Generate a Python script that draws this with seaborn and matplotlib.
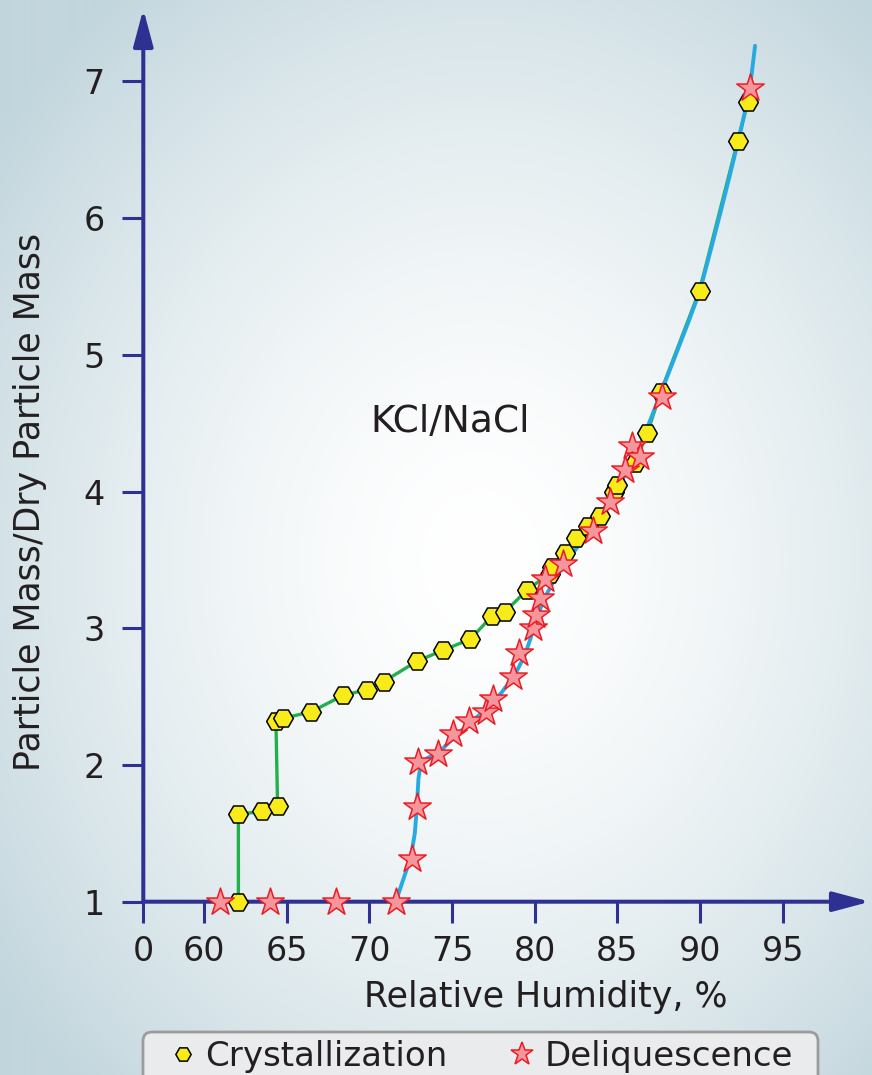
import numpy as np
import pandas as pd
import matplotlib
matplotlib.use("Agg")
import matplotlib.pyplot as plt
import matplotlib.patches as mpatches
import matplotlib.transforms as mtransforms
import seaborn as sns
from matplotlib.lines import Line2D

# ---------------- data ----------------
cryst_rh = [62.08, 62.08, 63.5, 64.45, 64.35, 64.76, 66.5, 68.43, 69.84, 70.87,
            72.9, 74.48, 76.1, 77.43, 78.2, 79.54, 80.9, 81.07, 81.84, 82.52,
            83.2, 83.93, 84.78, 84.97, 86.07, 86.82, 87.63, 89.97, 92.27, 92.89]
cryst_mass = [1.0, 1.64, 1.66, 1.70, 2.32, 2.34, 2.39, 2.51, 2.55, 2.61,
              2.76, 2.84, 2.92, 3.09, 3.12, 3.28, 3.40, 3.45, 3.55, 3.66,
              3.75, 3.82, 4.00, 4.05, 4.21, 4.43, 4.73, 5.47, 6.56, 6.85]

deliq_rh = [60.97, 64.0, 68.0, 71.6, 72.56, 72.86, 72.96, 74.17, 75.08, 76.05,
            77.06, 77.5, 78.71, 79.07, 79.92, 80.08, 80.33, 80.63, 81.74, 83.55,
            84.56, 85.47, 85.87, 86.38, 87.69, 93.03]
deliq_mass = [1.0, 1.0, 1.0, 1.0, 1.31, 1.69, 2.02, 2.08, 2.23, 2.32,
              2.39, 2.48, 2.64, 2.82, 3.00, 3.10, 3.22, 3.36, 3.47, 3.71,
              3.92, 4.16, 4.33, 4.25, 4.69, 6.95]

# smooth deliquescence curve
fit_rh = [71.6, 72.1, 72.5, 72.75, 72.88, 72.97, 73.1, 73.5, 74.2, 75.1,
          76.0, 77.0, 78.0, 78.8, 79.4, 79.9, 80.5, 81.5, 82.5, 83.5,
          84.5, 85.5, 86.5, 87.5, 88.5, 89.3, 90.0, 90.7, 91.3, 91.9,
          92.5, 93.0, 93.33]
fit_mass = [1.0, 1.18, 1.32, 1.50, 1.70, 1.90, 2.00, 2.05, 2.09, 2.20,
            2.30, 2.40, 2.53, 2.66, 2.80, 2.98, 3.20, 3.42, 3.58, 3.73,
            3.91, 4.13, 4.37, 4.68, 4.99, 5.24, 5.47, 5.79, 6.07, 6.36,
            6.66, 6.93, 7.26]

x_tick_values = [60, 65, 70, 75, 80, 85, 90, 95]
x_tick_labels = ["0", "60", "65", "70", "75", "80", "85", "90", "95"]
y_tick_values = [1, 2, 3, 4, 5, 6, 7]

series_labels = ["Crystallization", "Deliquescence"]
annotation_text = "KCl/NaCl"
x_label = "Relative Humidity, %"
y_label = "Particle Mass/Dry Particle Mass"

# ---------------- styling ----------------
AXIS_BLUE = "#2E3192"
TEXT = "#231F20"
GREEN = "#22B04B"
CYAN = "#27AAE1"
HEX_FILL = "#F7EC1A"
STAR_FILL = "#F5959C"
STAR_EDGE = "#EC1C24"

sns.set_style("white")
plt.rcParams["font.family"] = ["DejaVu Sans"]

W_PX, H_PX = 872, 1075
fig = plt.figure(figsize=(W_PX / 100, H_PX / 100), dpi=100)

# radial background
bg = fig.add_axes([0, 0, 1, 1])
bg.set_axis_off()
yy, xx = np.mgrid[0:H_PX, 0:W_PX]
r = np.sqrt(((xx - 480) / 600.0) ** 2 + ((yy - 560) / 720.0) ** 2)
t = np.clip(r, 0, 1) ** 1.6
c0 = np.array([1.0, 1.0, 1.0])
c1 = np.array([0xC2, 0xD6, 0xDD]) / 255.0
img = c0 + (c1 - c0) * t[..., None]
bg.imshow(img, extent=[0, 1, 0, 1], aspect="auto", origin="upper")
bg.set_xlim(0, 1)
bg.set_ylim(0, 1)

# main axes geometry (pixels)
ax_left_px, ax_right_px = 143.3, 855.0
ax_bottom_px, ax_top_px = 901.7, 25.0
ax = fig.add_axes([ax_left_px / W_PX, 1 - ax_bottom_px / H_PX,
                   (ax_right_px - ax_left_px) / W_PX,
                   (ax_bottom_px - ax_top_px) / H_PX])
ax.patch.set_alpha(0)

px_per_unit_x = 82.67 / 5.0
px_per_unit_y = 136.73
x_min = 60 - (204.0 - ax_left_px) / px_per_unit_x
x_max = 60 + (ax_right_px - 204.0) / px_per_unit_x
y_min = 1.0
y_max = 1 + (ax_bottom_px - ax_top_px) / px_per_unit_y
ax.set_xlim(x_min, x_max)
ax.set_ylim(y_min, y_max)

df_c = pd.DataFrame({"rh": cryst_rh, "mass": cryst_mass})
df_d = pd.DataFrame({"rh": deliq_rh, "mass": deliq_mass})
df_f = pd.DataFrame({"rh": fit_rh, "mass": fit_mass})

sns.lineplot(data=df_c, x="rh", y="mass", sort=False, estimator=None,
             color=GREEN, lw=2.4, ax=ax, zorder=2)
sns.lineplot(data=df_f, x="rh", y="mass", sort=False, estimator=None,
             color=CYAN, lw=2.8, ax=ax, zorder=2.2)
sns.scatterplot(data=df_c, x="rh", y="mass", marker="H", s=200,
                color=HEX_FILL, edgecolor="black", linewidth=1.1,
                ax=ax, zorder=3, clip_on=False)
sns.scatterplot(data=df_d, x="rh", y="mass", marker="*", s=430,
                color=STAR_FILL, edgecolor=STAR_EDGE, linewidth=1.1,
                ax=ax, zorder=4, clip_on=False)
if ax.get_legend() is not None:
    ax.get_legend().remove()

# axes with arrows
for s in ax.spines.values():
    s.set_visible(False)
arrow_kw = dict(arrowstyle="-|>,head_length=1.5,head_width=0.4",
                color=AXIS_BLUE, lw=2.9, shrinkA=0, shrinkB=0,
                mutation_scale=15)
x_tip = (870 - ax_left_px) / (ax_right_px - ax_left_px)
y_tip = (ax_bottom_px - 9) / (ax_bottom_px - ax_top_px)
ax.annotate("", xy=(x_tip, 0), xytext=(0, 0), xycoords="axes fraction",
            textcoords="axes fraction", arrowprops=arrow_kw,
            annotation_clip=False, zorder=1.5)
ax.annotate("", xy=(0, y_tip), xytext=(0, 0), xycoords="axes fraction",
            textcoords="axes fraction", arrowprops=arrow_kw,
            annotation_clip=False, zorder=1.5)

ax.set_xticks([x_min] + x_tick_values)
ax.set_xticklabels(x_tick_labels)
ax.set_yticks(y_tick_values)
ax.set_yticklabels([str(v) for v in y_tick_values])
ax.tick_params(axis="both", which="major", direction="out", length=15,
               width=2.2, color=AXIS_BLUE, labelsize=24, labelcolor=TEXT,
               bottom=True, left=True, top=False, right=False)
ax.tick_params(axis="x", pad=9)
ax.tick_params(axis="y", pad=13)

ax.set_xlabel(x_label, fontsize=25, color=TEXT)
ax.set_ylabel(y_label, fontsize=25, color=TEXT)
ax.xaxis.label.set_va("center")
ax.yaxis.label.set_va("center")
ax.yaxis.label.set_ha("center")
aw = ax_right_px - ax_left_px
ah = ax_bottom_px - ax_top_px
ax.xaxis.set_label_coords((546 - ax_left_px) / aw, -(997 - ax_bottom_px) / ah)
ax.yaxis.set_label_coords((30 - ax_left_px) / aw, (ax_bottom_px - 502) / ah)

ax.text(74.88, 4.51, annotation_text, fontsize=27, ha="center", va="center",
        color=TEXT)

# legend box (drawn in pixel coordinates, runs past the bottom edge)
legend_box = mpatches.FancyBboxPatch(
    (143, H_PX - 1100), 818 - 143, 1100 - 1032,
    boxstyle="round,pad=0,rounding_size=9",
    transform=mtransforms.IdentityTransform(),
    facecolor="#E9EBEC", edgecolor="#9C9C9C", linewidth=2, zorder=5)
fig.patches.append(legend_box)

handles = [
    Line2D([], [], ls="", marker="H", markersize=11, markerfacecolor=HEX_FILL,
           markeredgecolor="black", markeredgewidth=1.1),
    Line2D([], [], ls="", marker="*", markersize=17, markerfacecolor=STAR_FILL,
           markeredgecolor=STAR_EDGE, markeredgewidth=1.1),
]
leg_fs = 24.5
em_px = leg_fs * 100 / 72.0
hl = 0.8
leg = fig.legend(handles, series_labels, loc="upper left",
                 bbox_to_anchor=((183 - hl * em_px / 2) / W_PX, 1 - 1040 / H_PX),
                 ncol=2, fontsize=leg_fs, frameon=False,
                 handletextpad=0.25, columnspacing=1.8, borderpad=0,
                 handlelength=hl, borderaxespad=0)
leg.set_zorder(6)
for txt in leg.get_texts():
    txt.set_color(TEXT)

fig.savefig("out.png", dpi=100)
